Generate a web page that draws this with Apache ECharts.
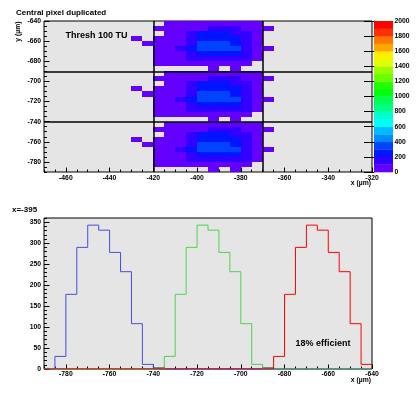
<!DOCTYPE html>
<html><head><meta charset="utf-8">
<script src="https://cdn.jsdelivr.net/npm/echarts@6/dist/echarts.min.js"></script>
<style>html,body{margin:0;padding:0;background:#fff}#c{width:418px;height:393px}</style>
</head><body><div id="c"></div>
<script>
// ---------- DATA ----------
// 2D map: lower x edges of the 5 um columns, lower y edges of the rows of each block
const xCols = [-430,-425,-420,-415,-410,-405,-400,-395,-390,-385,-380,-375,-370];
const yRowsTopBlock = [-645,-650,-655,-660,-665,-670,-675,-680,-685,-690];
const yRowsMidBlock = [-695,-700,-705,-710,-715,-720,-725,-730,-735,-740];
const yRowsBotBlock = [-745,-750,-755,-760,-765,-770,-775,-780,-785,-790];
const countsTopBlock = [
  [0,0,0,6,9,11,12,12,12,10,8,5,0],
  [0,0,4,30,52,75,95,107,110,104,80,45,3],
  [0,0,0,60,95,150,215,231,228,190,140,70,0],
  [2,0,20,75,98,165,260,277,270,245,170,80,0],
  [0,3,25,80,99,180,318,330,325,290,185,85,0],
  [0,0,25,85,120,210,330,342,338,315,190,88,2],
  [0,0,22,78,97,175,275,289,282,255,170,80,0],
  [0,0,15,60,90,130,165,176,170,150,110,60,0],
  [0,0,5,15,20,25,30,31,30,28,20,0,0],
  [0,0,0,0,0,0,0,2,0,2,0,0,0]
];
const countsMidBlock = [
  [0,0,0,6,9,11,12,12,12,10,8,5,0],
  [0,0,4,30,52,75,95,107,110,104,80,45,3],
  [0,0,0,60,95,150,215,231,228,190,140,70,0],
  [2,0,20,75,98,165,260,277,270,245,170,80,0],
  [0,3,25,80,99,180,318,330,325,290,185,85,0],
  [0,0,25,85,120,210,330,342,338,315,190,88,2],
  [0,0,22,78,97,175,275,289,282,255,170,80,0],
  [0,0,15,60,90,130,165,176,170,150,110,60,0],
  [0,0,5,15,20,25,30,31,30,28,20,0,0],
  [0,0,0,0,0,0,0,2,0,2,0,0,0]
];
const countsBotBlock = [
  [0,0,0,6,9,11,12,12,12,10,8,5,0],
  [0,0,4,30,52,75,95,107,110,104,80,45,3],
  [0,0,0,60,95,150,215,231,228,190,140,70,0],
  [2,0,20,75,98,165,260,277,270,245,170,80,0],
  [0,3,25,80,99,180,318,330,325,290,185,85,0],
  [0,0,25,85,120,210,330,342,338,315,190,88,2],
  [0,0,22,78,97,175,275,289,282,255,170,80,0],
  [0,0,15,60,90,130,165,176,170,150,110,60,0],
  [0,0,5,15,20,25,30,31,30,28,20,0,0],
  [0,0,0,0,0,0,0,2,0,2,0,0,0]
];
const boxEdgesX = [-420, -370];
const boxEdgesY = [-690, -740];
// colour scale levels (contours)
const zLevels = [0,100,200,300,400,500,600,700,800,900,1000,1100,1200,1300,1400,1500,1600,1700,1800,1900,2000];
const paletteColors = ['#6300ff','#3300ff','#0014ff','#0044ff','#008bff','#00bbff','#00fffc','#00ffcc','#00ff85','#00ff55',
                       '#00ff0e','#22ff00','#69ff00','#99ff00','#e0ff00','#ffee00','#ffa700','#ff7700','#ff3000','#ff0000'];
// 1D slice at x = -395
const xBins = [-790,-785,-780,-775,-770,-765,-760,-755,-750,-745,-740,-735,-730,-725,-720,-715,-710,-705,-700,-695,-690,-685,-680,-675,-670,-665,-660,-655,-650,-645];
const blueCounts  = [0,30,178,290,343,331,278,232,108,11,0,0,0,0,0,0,0,0,0,0,0,0,0,0,0,0,0,0,0,0];
const greenCounts = [0,0,0,0,0,0,0,0,0,0,0,30,178,290,343,331,278,232,108,11,0,0,0,0,0,0,0,0,0,0];
const redCounts   = [0,0,0,0,0,0,0,0,0,0,0,0,0,0,0,0,0,0,0,0,0,30,178,290,343,331,278,232,108,11];
const blackCounts = [null,null,null,null,null,null,null,null,null,null,2,null,null,null,null,null,null,null,null,null,2,null,null,null,null,null,null,null,null,null];
// tick labels
const xTicksTop = [-460,-440,-420,-400,-380,-360,-340,-320];
const yTicksTop = [-780,-760,-740,-720,-700,-680,-660,-640];
const xTicksBottom = [-780,-760,-740,-720,-700,-680,-660,-640];
const yTicksBottom = [0,50,100,150,200,250,300,350];

// ---------- BUILD ----------
const BIN = 5;
const FONT = '"Liberation Sans", Arial, sans-serif';
const lbl = {color:'#000', fontFamily: FONT, fontSize: 6.8, fontWeight: 'bold', formatter: function (v) { return String(v); }};

function colorOf(v) {
  let k = Math.floor(v / 100);
  if (k < 0) k = 0; if (k > 19) k = 19;
  return paletteColors[k];
}
const cells = [];
[[yRowsTopBlock, countsTopBlock],[yRowsMidBlock, countsMidBlock],[yRowsBotBlock, countsBotBlock]].forEach(([rows, counts]) => {
  rows.forEach((y, i) => {
    xCols.forEach((x, j) => {
      const v = counts[i][j];
      if (v > 0) cells.push([x, y, v]);
    });
  });
});
function histData(counts) {
  const d = xBins.map((x, i) => [x, counts[i]]);
  d.push([xBins[xBins.length - 1] + BIN, counts[counts.length - 1]]);
  return d;
}
const blackData = [];
xBins.forEach((x, i) => { if (blackCounts[i] != null) blackData.push([x, blackCounts[i]]); });
const barData = paletteColors.map((c, i) => [zLevels[i], zLevels[i + 1], i]);

function majorX(grid, min, max, ticks, len, margin) {
  return {gridIndex: grid, type: 'value', min, max, position: 'bottom',
    axisLine: {show: false}, splitLine: {show: false},
    axisTick: {show: true, inside: true, length: len, customValues: ticks, lineStyle: {color: '#000', width: 1}},
    axisLabel: Object.assign({customValues: ticks, margin: margin}, lbl)};
}
function minorX(grid, min, max, interval, len) {
  return {gridIndex: grid, type: 'value', min, max, interval, position: 'bottom',
    axisLine: {show: false}, splitLine: {show: false}, axisLabel: {show: false},
    axisTick: {show: true, inside: true, length: len, lineStyle: {color: '#000', width: 1}}};
}
function majorY(grid, min, max, ticks, len, margin) {
  return {gridIndex: grid, type: 'value', min, max, position: 'left',
    axisLine: {show: false}, splitLine: {show: false},
    axisTick: {show: true, inside: true, length: len, customValues: ticks, lineStyle: {color: '#000', width: 1}},
    axisLabel: Object.assign({customValues: ticks, margin: margin}, lbl)};
}
function minorY(grid, min, max, interval, len) {
  return {gridIndex: grid, type: 'value', min, max, interval, position: 'left',
    axisLine: {show: false}, splitLine: {show: false}, axisLabel: {show: false},
    axisTick: {show: true, inside: true, length: len, lineStyle: {color: '#000', width: 1}}};
}

const option = {
  animation: false,
  backgroundColor: '#fff',
  grid: [
    {left: 44, top: 21, width: 328, height: 151, show: true, backgroundColor: '#e5e5e5', borderColor: '#000', borderWidth: 1},
    {left: 44, top: 218, width: 328, height: 151, show: true, backgroundColor: '#e5e5e5', borderColor: '#000', borderWidth: 1},
    {left: 374, top: 21, width: 19, height: 151, show: false}
  ],
  xAxis: [
    majorX(0, -470, -320, xTicksTop, 4.5, 2.5),
    minorX(0, -470, -320, 5, 2.5),
    majorX(1, -790, -640, xTicksBottom, 4.5, 1.5),
    minorX(1, -790, -640, 5, 2.5),
    {gridIndex: 2, type: 'value', min: 0, max: 1, show: false}
  ],
  yAxis: [
    majorY(0, -790, -640, yTicksTop, 5.5, 3),
    minorY(0, -790, -640, 5, 3),
    majorY(1, 0, 360, yTicksBottom, 5.5, 3),
    minorY(1, 0, 360, 10, 3),
    {gridIndex: 2, type: 'value', min: 0, max: 2000, interval: 200, position: 'right',
     axisLine: {show: true, lineStyle: {color: '#000', width: 1}}, splitLine: {show: false},
     axisTick: {show: true, inside: true, length: 10, lineStyle: {color: '#000', width: 1}},
     axisLabel: Object.assign({margin: 1.5}, lbl)}
  ],
  series: [
    {type: 'custom', xAxisIndex: 0, yAxisIndex: 0, data: cells, silent: true,
     dimensions: ['x', 'y', 'v'], encode: {x: 0, y: 1},
     renderItem: function (params, api) {
       const x0 = api.value(0), y0 = api.value(1), v = api.value(2);
       const a = api.coord([x0, y0 + BIN]);
       const b = api.coord([x0 + BIN, y0]);
       const x = Math.round(a[0]), y = Math.round(a[1]);
       return {type: 'rect', shape: {x: x, y: y, width: Math.round(b[0]) - x, height: Math.round(b[1]) - y},
               style: {fill: colorOf(v)}};
     },
     markLine: {silent: true, symbol: 'none', label: {show: false}, animation: false,
       lineStyle: {color: '#000', width: 1.5, type: 'solid'},
       emphasis: {disabled: true},
       data: boxEdgesX.map(v => ({xAxis: v})).concat(boxEdgesY.map(v => ({yAxis: v})))}
    },
    {type: 'custom', xAxisIndex: 4, yAxisIndex: 4, data: barData, silent: true,
     renderItem: function (params, api) {
       const a = api.coord([0, api.value(1)]);
       const b = api.coord([1, api.value(0)]);
       return {type: 'rect', shape: {x: a[0], y: a[1], width: b[0] - a[0], height: b[1] - a[1] + 0.3},
               style: {fill: paletteColors[api.value(2)]}};
     }},
    {type: 'line', xAxisIndex: 2, yAxisIndex: 2, step: 'end', showSymbol: false, silent: true,
     data: histData(blueCounts), lineStyle: {color: '#4a4ae6', width: 1}, itemStyle: {color: '#4a4ae6'}},
    {type: 'line', xAxisIndex: 2, yAxisIndex: 2, step: 'end', showSymbol: false, silent: true,
     data: histData(greenCounts), lineStyle: {color: '#4fd34f', width: 1}, itemStyle: {color: '#4fd34f'}},
    {type: 'line', xAxisIndex: 2, yAxisIndex: 2, step: 'end', showSymbol: false, silent: true,
     data: histData(redCounts), lineStyle: {color: '#ff0000', width: 1}, itemStyle: {color: '#ff0000'}},
    {type: 'custom', xAxisIndex: 2, yAxisIndex: 2, data: blackData, silent: true,
     renderItem: function (params, api) {
       const a = api.coord([api.value(0), api.value(1)]);
       const b = api.coord([api.value(0) + BIN, api.value(1)]);
       return {type: 'line', shape: {x1: a[0], y1: a[1], x2: b[0], y2: b[1]}, style: {stroke: '#000', lineWidth: 1.2}};
     }}
  ],
  graphic: [
    {type: 'text', x: 16, y: 9, style: {text: 'Central pixel duplicated', fontFamily: FONT, fontSize: 8, fontWeight: 'bold', fill: '#000', align: 'left', verticalAlign: 'top'}},
    {type: 'text', x: 65.5, y: 31.5, style: {text: 'Thresh 100 TU', fontFamily: FONT, fontSize: 9, fontWeight: 'bold', fill: '#000', align: 'left', verticalAlign: 'top'}},
    {type: 'text', x: 18.5, y: 21.5, rotation: Math.PI / 2, style: {text: 'y (\u00b5m)', fontFamily: FONT, fontSize: 6.8, fontWeight: 'bold', fill: '#000', align: 'right', verticalAlign: 'middle'}},
    {type: 'text', x: 371, y: 179.5, style: {text: 'x (\u00b5m)', fontFamily: FONT, fontSize: 6.8, fontWeight: 'bold', fill: '#000', align: 'right', verticalAlign: 'top'}},
    {type: 'text', x: 12, y: 206, style: {text: 'x=-395', fontFamily: FONT, fontSize: 8, fontWeight: 'bold', fill: '#000', align: 'left', verticalAlign: 'top'}},
    {type: 'text', x: 295.5, y: 339, style: {text: '18% efficient', fontFamily: FONT, fontSize: 9, fontWeight: 'bold', fill: '#000', align: 'left', verticalAlign: 'top'}},
    {type: 'text', x: 371, y: 376.5, style: {text: 'x (\u00b5m)', fontFamily: FONT, fontSize: 6.8, fontWeight: 'bold', fill: '#000', align: 'right', verticalAlign: 'top'}}
  ]
};
const chart = echarts.init(document.getElementById('c'), null, {renderer: 'canvas'});
chart.setOption(option);
</script></body></html>
